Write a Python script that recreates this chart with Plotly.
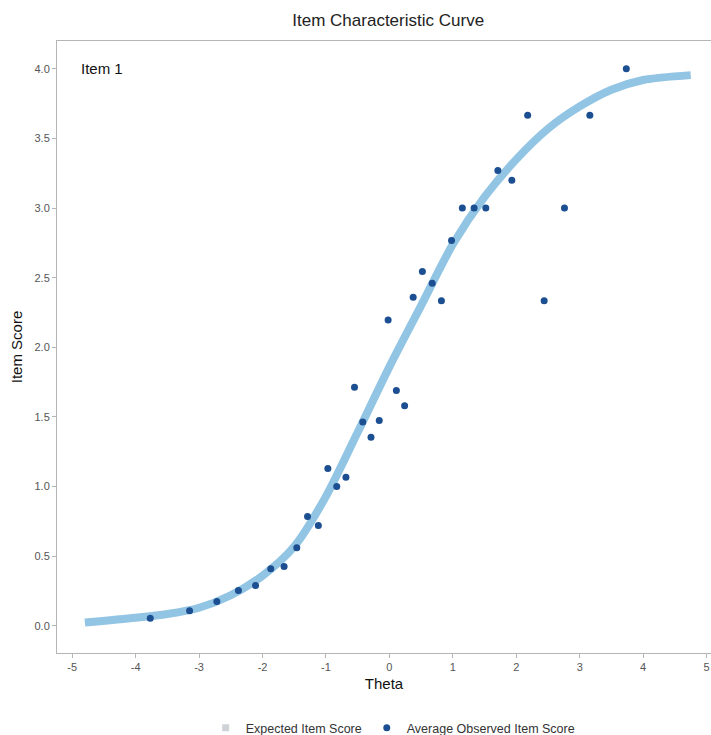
import plotly.graph_objects as go

# Expected item score curve
curve_theta = [-4.8, -4.0, -3.5, -3.0, -2.5, -2.0, -1.5, -1.0, -0.5, 0.0, 0.5, 1.0,
               1.5, 2.0, 2.5, 3.0, 3.5, 4.0, 4.75]
curve_score = [0.024, 0.058, 0.085, 0.13, 0.22, 0.36, 0.57, 0.93, 1.39, 1.86, 2.30, 2.74,
               3.08, 3.35, 3.57, 3.73, 3.85, 3.92, 3.955]

# Average observed item scores
obs_theta = [-3.77, -3.15, -2.72, -2.38, -2.11, -1.87, -1.66, -1.46, -1.29, -1.12,
             -0.97, -0.83, -0.685, -0.55, -0.42, -0.29, -0.16, -0.02, 0.11, 0.24,
             0.375, 0.52, 0.675, 0.82, 0.98, 1.15, 1.335, 1.52, 1.71, 1.93,
             2.18, 2.44, 2.76, 3.16, 3.735]
obs_score = [0.055, 0.108, 0.175, 0.254, 0.29, 0.41, 0.426, 0.56, 0.785, 0.72,
             1.13, 1.0, 1.068, 1.714, 1.463, 1.355, 1.474, 2.197, 1.69, 1.58,
             2.36, 2.545, 2.46, 2.334, 2.767, 3.0, 3.0, 3.0, 3.27, 3.2,
             3.667, 2.334, 3.0, 3.667, 4.0]

x_ticks = [-5, -4, -3, -2, -1, 0, 1, 2, 3, 4, 5]
y_ticks = [0.0, 0.5, 1.0, 1.5, 2.0, 2.5, 3.0, 3.5, 4.0]

FONT = "Liberation Sans, Arial, sans-serif"

fig = go.Figure()
fig.add_trace(go.Scatter(x=curve_theta, y=curve_score, mode="lines",
                         line=dict(color="#92c4e4", width=8, shape="spline", smoothing=0.8),
                         showlegend=False, hoverinfo="skip"))
fig.add_trace(go.Scatter(x=[None], y=[None], mode="markers", name="Expected Item Score",
                         marker=dict(color="#cfd3d8", size=7, symbol="square")))
fig.add_trace(go.Scatter(x=obs_theta, y=obs_score, mode="markers",
                         name="Average Observed Item Score",
                         marker=dict(color="#1b4f91", size=7)))

axis_common = dict(showgrid=False, zeroline=False, showline=True, linecolor="#b5b5b5",
                   linewidth=1, mirror=True, ticks="outside", ticklen=4, tickcolor="#b5b5b5",
                   automargin=False,
                   tickfont=dict(family=FONT, size=11, color="#555555"))

fig.update_layout(
    width=711, height=735,
    margin=dict(l=57, r=0, t=41, b=82, autoexpand=False),
    paper_bgcolor="white", plot_bgcolor="white",
    title=dict(text="Item Characteristic Curve", x=0.546, xanchor="center", y=0.973,
               yanchor="middle", font=dict(family=FONT, size=17, color="#222222")),
    xaxis=dict(range=[-5.24, 5.07], tickvals=x_ticks, ticktext=[str(v) for v in x_ticks],
               title=dict(text="Theta", font=dict(family=FONT, size=15, color="#111111"),
                          standoff=6), **axis_common),
    yaxis=dict(range=[-0.195, 4.2], tickvals=y_ticks,
               ticktext=[f"{v:.1f}" for v in y_ticks],
               title=dict(text="Item Score", font=dict(family=FONT, size=15, color="#111111"),
                          standoff=8), **axis_common),
    legend=dict(orientation="h", x=0.553, xanchor="center", xref="container",
                y=0.0095, yanchor="middle", yref="container",
                font=dict(family=FONT, size=12.5, color="#333333"), itemwidth=30,
                bgcolor="rgba(0,0,0,0)"),
    annotations=[dict(text="Item 1", xref="paper", yref="paper", x=0.033, y=0.955,
                      xanchor="left", yanchor="middle", showarrow=False,
                      font=dict(family=FONT, size=15, color="#111111"))],
)

fig.write_html("out.html")
